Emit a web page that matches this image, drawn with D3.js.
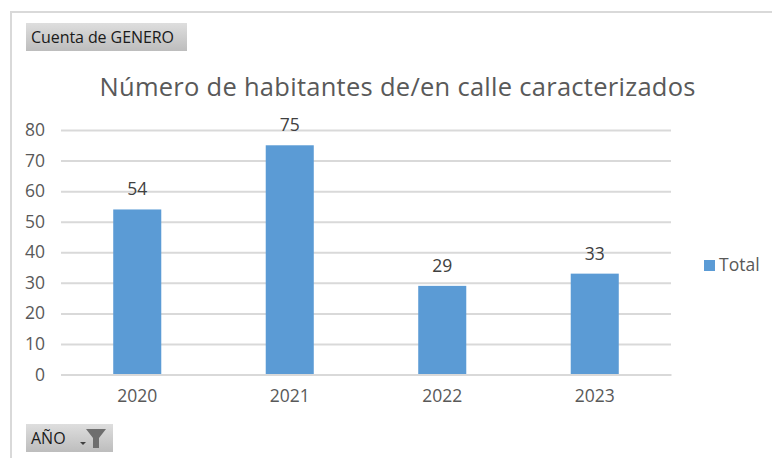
<!DOCTYPE html>
<html><head><meta charset="utf-8">
<script src="https://cdn.jsdelivr.net/npm/d3@7"></script>
<style>html,body{margin:0;padding:0;background:#fff}svg{display:block}</style>
</head><body><svg id="c" width="772" height="458"></svg>
<script>
const years = ["2020","2021","2022","2023"];
const totals = [54,75,29,33];
const yTicks = [0,10,20,30,40,50,60,70,80];
const titleText = "Número de habitantes de/en calle caracterizados";
const seriesName = "Total";
const fieldValue = "Cuenta de GENERO";
const fieldAxis = "AÑO";

const font = "'Open Sans', sans-serif";
const svg = d3.select("#c");
const x = d3.scaleBand().domain(years).range([61,671]).paddingInner(0.685).paddingOuter(0.3425);
const y = d3.scaleLinear().domain([0,80]).range([374.5,130]);

const defs = svg.append("defs");
const g = defs.append("linearGradient").attr("id","btn").attr("x1",0).attr("x2",0).attr("y1",0).attr("y2",1);
g.append("stop").attr("offset",0).attr("stop-color","#dedede");
g.append("stop").attr("offset",1).attr("stop-color","#bdbdbd");

// frame
svg.append("path").attr("d","M11 458V12H772").attr("fill","none").attr("stroke","#d9d9d9").attr("stroke-width",2);

// gridlines + y axis
const yAxis = d3.axisLeft(y).tickValues(yTicks).tickSize(-(671-61)).tickPadding(16);
const ga = svg.append("g").attr("transform","translate(61,0)").call(yAxis);
ga.select(".domain").remove();
ga.selectAll("line").attr("stroke","#d9d9d9").attr("stroke-width",2);
ga.selectAll("text").attr("fill","#595959").attr("font-family",font).attr("font-size",17.5);

// bars
svg.selectAll("rect.bar").data(totals).join("rect").attr("class","bar")
  .attr("x",(d,i)=>x(years[i])).attr("width",x.bandwidth())
  .attr("y",d=>y(d)).attr("height",d=>y(0)-y(d)).attr("fill","#5b9bd5");

// x axis
const xa = svg.append("g").attr("transform","translate(0,374.5)").call(d3.axisBottom(x).tickSize(0).tickPadding(15));
xa.select(".domain").attr("stroke","#d9d9d9").attr("stroke-width",2);
xa.selectAll("text").attr("fill","#595959").attr("font-family",font).attr("font-size",17.5);

// value labels
svg.selectAll("text.val").data(totals).join("text").attr("class","val")
  .attr("x",(d,i)=>x(years[i])+x.bandwidth()/2).attr("y",d=>y(d)-14)
  .attr("text-anchor","middle").attr("fill","#404040").attr("font-family",font).attr("font-size",17.5).text(d=>d);

// title
svg.append("text").attr("x",397.5).attr("y",96).attr("text-anchor","middle")
  .attr("fill","#595959").attr("font-family",font).attr("font-size",25.5).attr("textLength",596).text(titleText);

// legend
svg.append("rect").attr("x",704).attr("y",260).attr("width",11).attr("height",11).attr("fill","#5b9bd5");
svg.append("text").attr("x",719).attr("y",271).attr("fill","#595959").attr("font-family",font).attr("font-size",17.5).text(seriesName);

// field buttons
svg.append("rect").attr("x",26).attr("y",23).attr("width",161).attr("height",28).attr("fill","url(#btn)");
svg.append("text").attr("x",31).attr("y",43).attr("fill","#1a1a1a").attr("font-family",font).attr("font-size",16).attr("textLength",143).text(fieldValue);
svg.append("rect").attr("x",26).attr("y",424).attr("width",87).attr("height",28).attr("fill","url(#btn)");
svg.append("text").attr("x",31).attr("y",444).attr("fill","#1a1a1a").attr("font-family",font).attr("font-size",16).text(fieldAxis);
svg.append("path").attr("d","M80 442h6l-3 3z").attr("fill","#404040");
svg.append("path").attr("d","M86 429h20l-7 9v10h-6v-10z").attr("fill","#6e6e6e");
</script></body></html>
